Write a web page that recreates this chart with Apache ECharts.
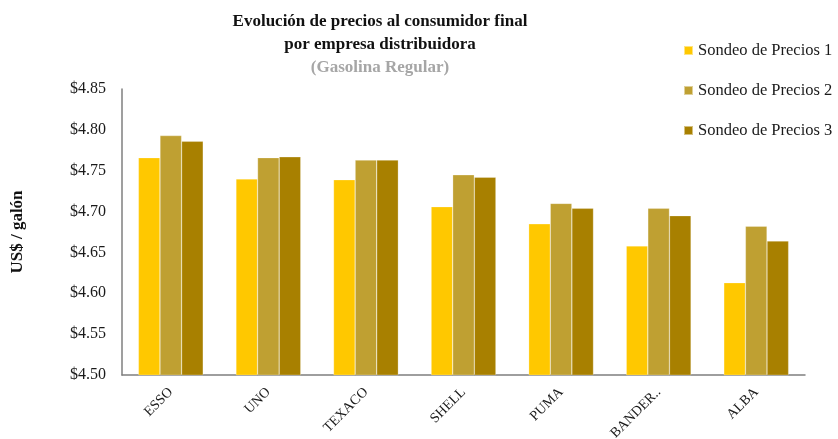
<!DOCTYPE html>
<html>
<head>
<meta charset="utf-8">
<script src="https://cdn.jsdelivr.net/npm/echarts@6/dist/echarts.min.js"></script>
<style>
  html, body { margin: 0; padding: 0; background: #fff; }
  #chart { width: 838px; height: 439px; }
</style>
</head>
<body>
<div id="chart"></div>
<script>
const empresas = ["ESSO", "UNO", "TEXACO", "SHELL", "PUMA", "BANDER..", "ALBA"];
const sondeo1 = [4.766, 4.740, 4.739, 4.706, 4.685, 4.658, 4.613];
const sondeo2 = [4.793, 4.766, 4.763, 4.745, 4.710, 4.704, 4.682];
const sondeo3 = [4.786, 4.767, 4.763, 4.742, 4.704, 4.695, 4.664];
const serieNames = ["Sondeo de Precios 1", "Sondeo de Precios 2", "Sondeo de Precios 3"];
const colores = ["#FFC800", "#BFA032", "#A88000"];

const serif = "Liberation Serif";
const chart = echarts.init(document.getElementById("chart"));

const series = [sondeo1, sondeo2, sondeo3].map((d, i) => ({
  name: serieNames[i],
  type: "bar",
  data: d,
  barWidth: 21.6,
  barGap: "0%",
  itemStyle: { color: colores[i], borderColor: "rgba(255,255,255,0.5)", borderWidth: 0.5 },
}));

chart.setOption({
  animation: false,
  title: [
    {
      text: "Evolución de precios al consumidor final\npor empresa distribuidora",
      left: 375,
      top: 5,
      textAlign: "center",
      textStyle: { fontFamily: serif, fontWeight: "bold", fontSize: 17, lineHeight: 23, color: "#111" },
    },
    {
      text: "(Gasolina Regular)",
      left: 375,
      top: 54,
      textAlign: "center",
      textStyle: { fontFamily: serif, fontWeight: "bold", fontSize: 17, color: "#a6a6a6" },
    },
  ],
  legend: {
    orient: "vertical",
    left: 678,
    top: 37,
    itemWidth: 9,
    itemHeight: 9,
    itemGap: 23,
    icon: "rect",
    textStyle: { fontFamily: serif, fontSize: 16.5, color: "#1a1a1a" },
    data: serieNames,
  },
  grid: { left: 122, right: 33, top: 89, bottom: 64, outerBoundsMode: "none" },
  xAxis: {
    type: "category",
    data: empresas,
    axisLine: { lineStyle: { color: "#7f7f7f", width: 1.5 } },
    axisTick: { show: false },
    axisLabel: {
      rotate: 45,
      interval: 0,
      margin: 15,
      fontFamily: serif,
      fontSize: 14,
      color: "#1a1a1a",
    },
  },
  yAxis: {
    type: "value",
    min: 4.5,
    max: 4.85,
    interval: 0.05,
    name: "US$ / galón",
    nameLocation: "middle",
    nameGap: 96,
    nameTextStyle: { fontFamily: serif, fontWeight: "bold", fontSize: 17, color: "#111" },
    axisLine: { show: true, lineStyle: { color: "#7f7f7f", width: 1.5 } },
    axisTick: { show: false },
    splitLine: { show: false },
    axisLabel: {
      margin: 16,
      fontFamily: serif,
      fontSize: 16,
      color: "#1a1a1a",
      formatter: (v) => "$" + v.toFixed(2),
    },
  },
  series: series,
});
</script>
</body>
</html>
